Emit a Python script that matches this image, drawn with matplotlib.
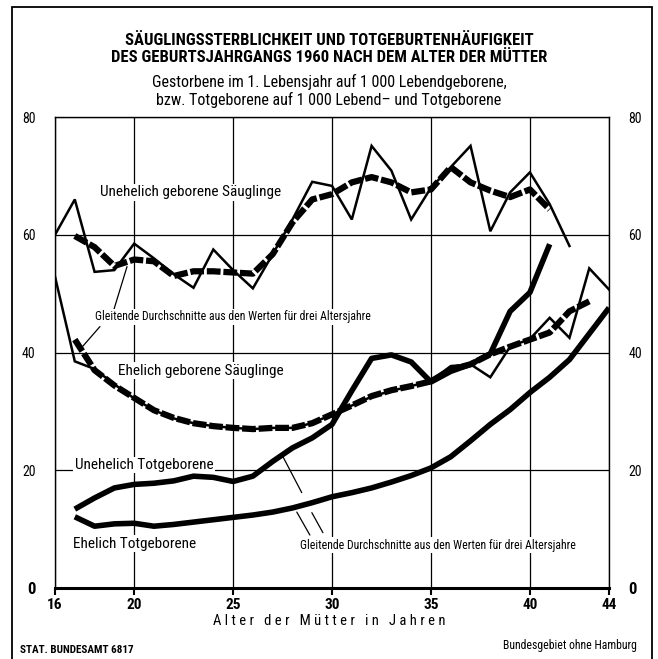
import matplotlib
matplotlib.use("Agg")
import matplotlib.pyplot as plt
from matplotlib import font_manager
from matplotlib.patches import Rectangle
import numpy as np

# pick a narrow font if one is there
names = set(f.name for f in font_manager.fontManager.ttflist)
fam = [n for n in ["Liberation Sans Narrow", "DejaVu Sans Condensed", "Roboto Condensed"] if n in names]
fam = fam + ["DejaVu Sans"]
plt.rcParams['font.family'] = fam
print(fam)

# Säuglingssterblichkeit, unehelich (Werte je Altersjahr)
ages_uneh_s = list(range(16, 43))
uneh_s = [60.0, 66.0, 53.7, 54.0, 58.5, 56.0, 53.3, 51.0, 57.5, 54.0, 50.9, 56.7, 62.6, 69.0,
          68.3, 62.6, 75.1, 70.9, 62.6, 68.0, 71.5, 75.1, 60.6, 67.2, 70.6, 65.2, 58.1]
# gleitende Durchschnitte
ages_uneh_s_avg = list(range(17, 42))
uneh_s_avg = [59.8, 57.9, 54.7, 55.8, 55.5, 53.0, 53.8, 53.8, 53.6, 53.4, 56.7, 62.1, 66.0,
              66.9, 68.9, 69.8, 68.9, 67.2, 67.7, 71.5, 68.9, 67.5, 66.4, 67.7, 64.3]

# Säuglingssterblichkeit, ehelich
ages_eh_s = list(range(16, 45))
eh_s = [52.9, 38.5, 37.2, 34.6, 32.2, 30.2, 28.8, 28.0, 27.5, 27.2, 27.0, 27.2, 27.2, 28.0,
        29.5, 31.0, 32.5, 33.5, 34.3, 35.2, 37.7, 38.0, 35.8, 41.0, 42.3, 45.9, 42.5, 54.3, 50.7]
ages_eh_s_avg = list(range(17, 44))
eh_s_avg = [42.2, 37.0, 34.4, 32.3, 30.2, 28.9, 28.0, 27.5, 27.2, 27.0, 27.2, 27.2, 28.0, 29.5,
            31.0, 32.6, 33.6, 34.3, 35.1, 37.1, 38.0, 39.7, 41.0, 42.2, 43.4, 47.0, 48.7]

# Totgeborene (gleitende Durchschnitte)
ages_uneh_t = list(range(17, 42))
uneh_t = [13.4, 15.3, 17.0, 17.6, 17.8, 18.2, 19.0, 18.8, 18.1, 19.0, 21.5, 23.8, 25.5, 27.8,
          33.5, 39.0, 39.6, 38.4, 35.0, 36.8, 38.0, 39.8, 47.0, 50.2, 58.4]
ages_eh_t = list(range(17, 45))
eh_t = [12.1, 10.5, 10.9, 11.0, 10.5, 10.8, 11.2, 11.6, 12.0, 12.4, 12.9, 13.6, 14.5, 15.5,
        16.2, 17.0, 18.0, 19.1, 20.4, 22.3, 25.0, 27.8, 30.3, 33.2, 35.8, 38.8, 43.2, 47.6]

xticks = [16, 20, 25, 30, 35, 40, 44]
yticks = [0, 20, 40, 60, 80]

fig = plt.figure(figsize=(6.58, 6.59), dpi=100)
ax = fig.add_axes([0.0836, 0.1077, 0.842, 0.7147])

thin = dict(color='black', lw=1.8, solid_joinstyle='miter', zorder=4)
avg = dict(color='black', lw=4.5, linestyle=(0, (2.2, 0.45)), zorder=3)
heavy = dict(color='black', lw=4.0, solid_capstyle='butt', zorder=3)

ax.plot(ages_uneh_s, uneh_s, **thin)
ax.plot(ages_uneh_s_avg, uneh_s_avg, **avg)
ax.plot(ages_eh_s, eh_s, **thin)
ax.plot(ages_eh_s_avg, eh_s_avg, **avg)
ax.plot(ages_uneh_t, uneh_t, **heavy)
ax.plot(ages_eh_t, eh_t, **heavy)

ax.set_xlim(16, 44)
ax.set_ylim(0, 80)
ax.set_xticks(xticks)
ax.set_yticks(yticks)
ax.grid(True, color='black', lw=0.9, zorder=1)
ax.set_axisbelow(True)
for s in ['left', 'right', 'top']:
    ax.spines[s].set_linewidth(1.0)
ax.spines['bottom'].set_linewidth(2.2)
ax.tick_params(axis='x', direction='out', length=5, width=1.5, labelsize=11, pad=2)
ax.tick_params(axis='y', length=0, labelsize=10, pad=14, labelright=True)
for lab in ax.get_xticklabels():
    lab.set_fontweight('bold')
for lab in ax.get_yticklabels():
    if lab.get_text() == '0':
        lab.set_fontweight('bold')
        lab.set_fontsize(12)

box = dict(fc='white', ec='none', pad=1.0)
ax.text(18.27, 67.2, "Unehelich geborene Säuglinge", fontsize=11, va='center', bbox=box, zorder=5)
ax.text(19.18, 36.9, "Ehelich geborene Säuglinge", fontsize=11, va='center', bbox=box, zorder=5)
ax.text(17.0, 20.9, "Unehelich Totgeborene", fontsize=11, va='center', bbox=box, zorder=5)
ax.text(16.9, 7.5, "Ehelich Totgeborene", fontsize=11, va='center', bbox=box, zorder=5)
gl = "Gleitende Durchschnitte aus den Werten für drei Altersjahre"
ax.text(18.02, 46.1, gl, fontsize=8.5, va='center', bbox=box, zorder=5)
ax.text(28.37, 7.3, gl, fontsize=8.5, va='center', bbox=box, zorder=5)

lead = dict(arrowstyle='-', color='black', lw=0.9, shrinkA=0, shrinkB=0)
ax.annotate("", xy=(19.64, 54.6), xytext=(18.93, 46.8), arrowprops=lead)
ax.annotate("", xy=(17.36, 40.9), xytext=(18.27, 44.4), arrowprops=lead)
ax.annotate("", xy=(27.52, 22.3), xytext=(28.47, 16.2), arrowprops=lead)
ax.annotate("", xy=(28.22, 12.9), xytext=(28.88, 9.0), arrowprops=lead)
ax.annotate("", xy=(28.98, 12.8), xytext=(29.54, 9.4), arrowprops=lead)

fig.text(0.5, 0.0577, "A l t e r   d e r   M ü t t e r   i n   J a h r e n",
         ha='center', va='center', fontsize=10.5)

fig.text(0.5, 0.939, "SÄUGLINGSSTERBLICHKEIT UND TOTGEBURTENHÄUFIGKEIT",
         ha='center', va='center', fontsize=12, fontweight='bold')
fig.text(0.5, 0.913, "DES GEBURTSJAHRGANGS 1960 NACH DEM ALTER DER MÜTTER",
         ha='center', va='center', fontsize=12, fontweight='bold')
fig.text(0.5, 0.876, "Gestorbene im 1. Lebensjahr auf 1 000 Lebendgeborene,",
         ha='center', va='center', fontsize=11.5)
fig.text(0.5, 0.848, "bzw. Totgeborene auf 1 000 Lebend\u2013 und Totgeborene",
         ha='center', va='center', fontsize=11.5)

fig.text(0.030, 0.0137, "STAT. BUNDESAMT 6817", ha='left', va='center',
         fontsize=8, fontweight='bold')
fig.text(0.968, 0.021, "Bundesgebiet ohne Hamburg", ha='right', va='center', fontsize=8.5)

fig.add_artist(Rectangle((0.018, -0.02), 0.973, 1.009, transform=fig.transFigure,
                         fill=False, ec='black', lw=1.3))

fig.savefig("out.png", dpi=100)
